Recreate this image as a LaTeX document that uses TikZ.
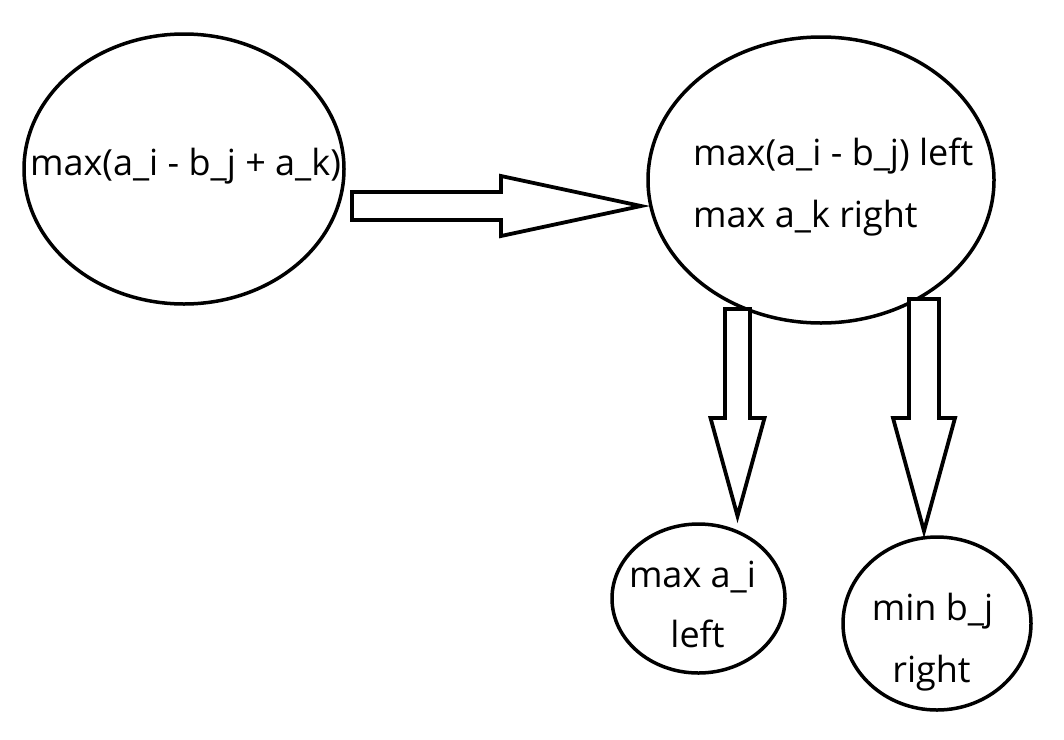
\documentclass[tikz,border=0pt]{standalone}
\usepackage{fontspec}
\setmainfont{Open Sans}
\usetikzlibrary{calc,shapes.geometric}
\tikzset{
  oval/.style={draw=black, line width=3.5pt, ellipse, inner sep=0pt},
  txt/.style={inner sep=0pt, font=\fontsize{36}{42}\selectfont},
  blk/.style={draw=black, line width=3.8pt, fill=white, line join=miter, miter limit=10}
}
\newcommand{\blockarrow}[5]{%
  % #1 start, #2 tip, #3 shaft half width, #4 head half width, #5 head length
  \coordinate (J) at ($(#2)!#5!(#1)$);
  \draw[blk] ($(#1)!#3!90:(#2)$) -- ($(J)!#3!-90:(#1)$) -- ($(J)!#4!-90:(#1)$) -- (#2)
    -- ($(J)!#4!90:(#1)$) -- ($(J)!#3!90:(#1)$) -- ($(#1)!#3!-90:(#2)$) -- cycle;
}
\begin{document}
\begin{tikzpicture}[x=1pt,y=-1pt]
\useasboundingbox (0,0) rectangle (1064,739);
\fill[white] (0,0) rectangle (1064,739);
% ellipses
\node[oval, minimum width=320pt, minimum height=270pt] (e1) at (184,169) {};
\node[oval, minimum width=346pt, minimum height=286pt] (e2) at (821,180) {};
\node[oval, minimum width=173pt, minimum height=149pt] (e3) at (698.5,598.5) {};
\node[oval, minimum width=188pt, minimum height=173pt] (e4) at (937,623.5) {};
% texts
\node[txt, anchor=base] (t1) at (185.5,175) {max(a\_i - b\_j + a\_k)};
\node[txt, anchor=base west] (t2a) at (693,165) {max(a\_i - b\_j) left};
\node[txt, anchor=base west] (t2b) at (693,227) {max a\_k right};
\node[txt, anchor=base] (t3a) at (692.5,587) {max a\_i};
\node[txt, anchor=base] (t3b) at (697.5,647) {left};
\node[txt, anchor=base] (t4a) at (932.5,620) {min b\_j};
\node[txt, anchor=base] (t4b) at (931.5,682) {right};
% block arrows
\coordinate (a1s) at (352,206);
\coordinate (a1t) at (641,206);
\coordinate (a2s) at (737.5,309);
\coordinate (a2t) at (737.5,516);
\coordinate (a3s) at (924,299);
\coordinate (a3t) at (924,531);
\blockarrow{a1s}{a1t}{14pt}{30pt}{140pt}
\blockarrow{a2s}{a2t}{12.5pt}{27pt}{98pt}
\blockarrow{a3s}{a3t}{15pt}{31pt}{113pt}
\end{tikzpicture}
\end{document}
